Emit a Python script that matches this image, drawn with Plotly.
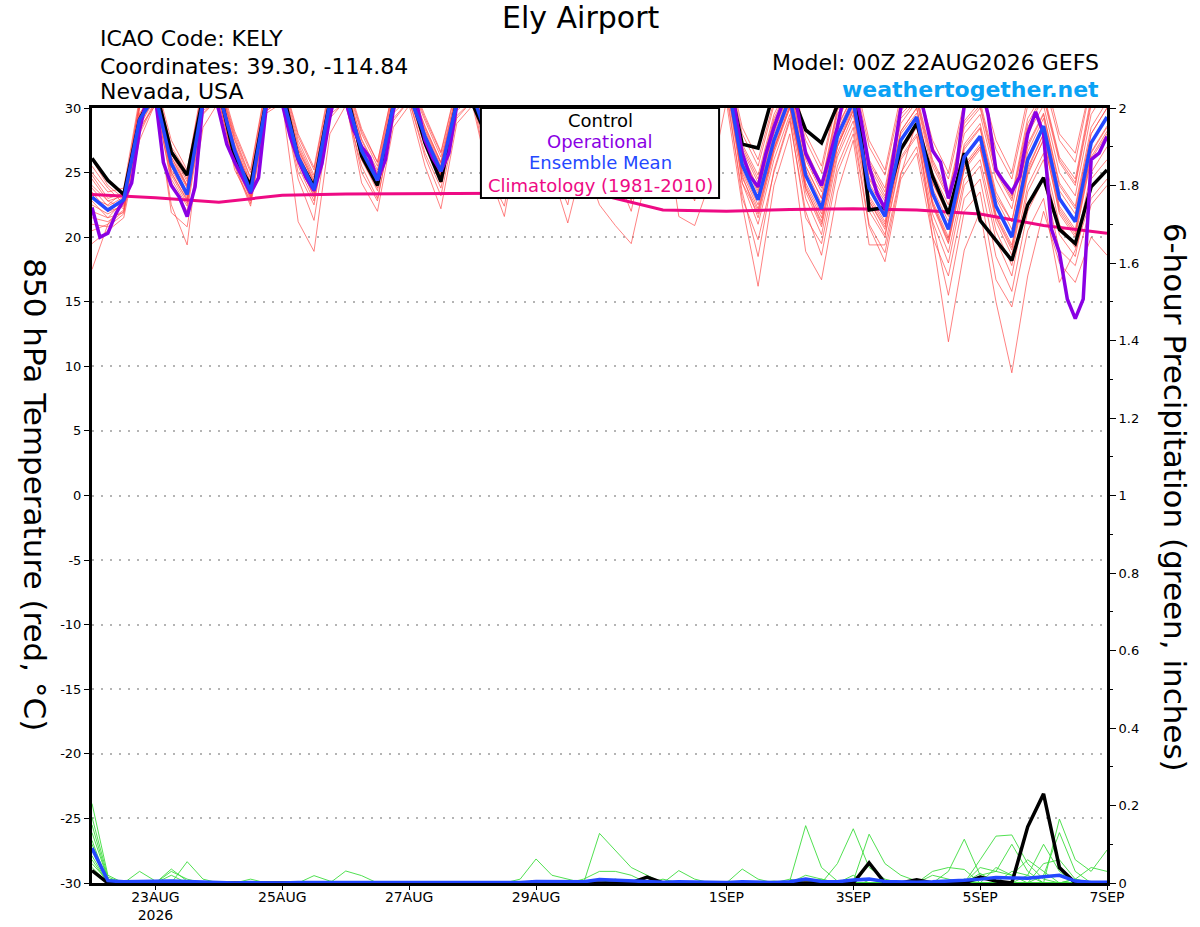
import pandas as pd
import plotly.graph_objects as go

# GEFS run 00Z 22AUG2026, 6-hourly steps (operational GFS is 3-hourly)
steps_6h = pd.date_range("2026-08-22 00:00", "2026-09-07 00:00", freq="6h")
steps_3h = pd.date_range("2026-08-22 00:00", "2026-09-07 00:00", freq="3h")
clim_days = pd.date_range("2026-08-22", "2026-09-07", freq="D")

tick_dates = ["2026-08-23", "2026-08-25", "2026-08-27", "2026-08-29",
              "2026-09-01", "2026-09-03", "2026-09-05", "2026-09-07"]
tick_names = ["23AUG<br>2026", "25AUG", "27AUG", "29AUG", "1SEP", "3SEP", "5SEP", "7SEP"]
temp_ticks = [30, 25, 20, 15, 10, 5, 0, -5, -10, -15, -20, -25, -30]
temp_tick_text = ["30", "25", "20", "15", "10", "5", "0", "-5", "-10", "-15", "-20", "-25", "-30"]

# 850 hPa temperature (C)
ctrl_t = [26.1, 24.4, 23.3, 29.1, 31.5, 26.6, 24.8, 30.8, 31.5, 26.1, 24.0, 30.6, 31.5, 26.1, 23.9, 30.5,
          31.5, 26.3, 24.0, 30.2, 31.5, 27.3, 24.3, 30.5, 30.3, 27.5, 25.0, 30.5, 31.5, 27.5, 25.0, 30.5,
          31.5, 27.0, 24.5, 30.2, 31.5, 27.5, 24.8, 30.5, 33.0, 27.2, 26.9, 31.3, 31.5, 28.3, 27.3, 30.2,
          33.5, 22.1, 22.3, 26.8, 28.8, 24.7, 21.8, 26.5, 21.3, 19.8, 18.2, 22.5, 24.6, 20.6, 19.5, 23.9,
          25.2]
mean_t = [23.1, 22.1, 22.9, 29.1, 31.0, 25.7, 23.3, 30.6, 31.2, 26.7, 23.5, 30.6, 31.0, 26.2, 23.7, 30.4,
          31.0, 26.7, 24.4, 30.2, 31.0, 27.8, 25.1, 30.4, 31.0, 27.5, 24.8, 30.5, 31.2, 27.8, 25.0, 30.5,
          31.2, 27.5, 24.5, 30.2, 31.0, 27.2, 24.6, 30.5, 32.5, 25.6, 22.9, 27.5, 30.8, 24.8, 22.2, 27.8,
          30.5, 23.8, 21.6, 27.5, 29.3, 23.4, 20.6, 26.2, 27.8, 22.4, 20.0, 26.0, 28.6, 23.0, 21.2, 27.3,
          29.3]
oper_t = [22.3, 20.0, 20.3, 21.8, 22.9, 24.2, 28.3, 31.0, 30.8, 25.8, 24.0, 23.1, 21.6, 23.9, 30.5, 32.0,
          29.8, 27.2, 25.8, 24.6, 23.4, 24.6, 30.2, 32.0, 30.3, 27.8, 26.0, 24.6, 23.6, 25.7, 29.3, 32.0,
          30.5, 28.3, 27.0, 26.2, 24.4, 26.0, 29.8, 32.0, 32.0, 30.2, 27.5, 26.1, 25.1, 26.5, 30.2, 32.0,
          32.0, 30.5, 27.5, 26.2, 25.2, 26.5, 30.5, 32.0, 32.0, 31.0, 27.8, 26.3, 25.3, 26.8, 30.5, 32.0,
          32.0, 31.0, 27.5, 26.0, 24.8, 26.2, 30.2, 32.0, 32.0, 31.0, 27.2, 25.8, 24.7, 26.0, 30.5, 32.0,
          32.0, 30.2, 26.5, 24.7, 23.9, 26.5, 28.5, 30.2, 32.0, 29.8, 26.5, 25.2, 24.0, 26.2, 28.5, 31.5,
          32.0, 29.0, 25.5, 23.4, 22.2, 26.0, 30.0, 32.0, 32.0, 29.5, 26.7, 25.8, 23.0, 25.2, 30.2, 32.0,
          32.0, 29.5, 25.2, 24.3, 23.5, 24.7, 28.0, 29.7, 28.0, 20.6, 18.8, 15.2, 13.7, 15.2, 26.0, 26.5,
          27.8]
clim_t = [23.3, 23.05, 22.7, 23.25, 23.35, 23.35, 23.4, 23.4, 23.3, 22.1, 22.0, 22.15, 22.2, 22.1,
          21.8, 20.9, 20.3]

m01 = [25.5, 23.8, 22.6, 29.5, 31.5, 26.5, 24.0, 31.0, 31.8, 27.2, 24.0, 31.0, 31.5, 26.8, 24.2, 30.8,
       31.5, 27.2, 24.8, 30.6, 31.5, 28.2, 25.5, 30.8, 31.5, 28.0, 25.2, 31.0, 31.6, 28.2, 25.4, 31.0,
       31.6, 28.0, 25.0, 30.6, 31.5, 27.8, 25.2, 31.0, 33.0, 26.5, 23.8, 28.5, 31.5, 26.0, 23.5, 29.0,
       31.5, 25.0, 23.0, 28.8, 30.5, 25.0, 22.5, 28.0, 29.5, 24.5, 22.2, 28.0, 30.2, 25.0, 23.2, 29.5,
       31.5]
m02 = [17.5, 21.0, 22.0, 28.8, 30.8, 25.0, 22.8, 30.2, 31.0, 26.2, 23.0, 30.4, 30.8, 25.8, 23.2, 30.0,
       30.8, 26.4, 24.0, 30.0, 30.8, 27.5, 24.8, 30.2, 30.8, 27.2, 24.5, 30.2, 31.0, 27.5, 24.6, 30.2,
       31.0, 27.2, 24.2, 30.0, 30.8, 26.8, 24.2, 30.2, 32.0, 24.8, 21.5, 26.5, 30.0, 23.5, 20.8, 26.5,
       29.5, 22.5, 20.2, 26.2, 28.0, 21.8, 18.8, 24.5, 26.0, 20.5, 17.8, 24.0, 26.5, 21.0, 19.2, 25.0,
       27.0]
m03 = [24.5, 22.8, 22.2, 28.5, 30.2, 22.5, 19.4, 29.5, 30.8, 26.0, 23.2, 30.2, 31.0, 26.5, 23.8, 30.6,
       31.2, 26.8, 24.6, 30.4, 31.0, 27.8, 25.2, 30.4, 31.0, 27.5, 24.8, 30.5, 31.2, 27.8, 25.0, 30.5,
       31.2, 27.5, 24.5, 30.2, 31.0, 27.2, 24.6, 30.5, 32.0, 26.2, 23.8, 28.5, 31.2, 25.5, 23.0, 28.6,
       31.0, 24.6, 22.8, 28.2, 30.0, 24.2, 21.8, 27.0, 28.5, 23.2, 21.2, 27.0, 29.5, 24.0, 22.2, 28.0,
       30.0]
m04 = [23.0, 22.5, 23.5, 30.2, 31.8, 26.8, 24.5, 31.5, 32.0, 27.8, 24.6, 31.5, 32.0, 27.5, 24.8, 31.2,
       32.0, 28.0, 25.5, 31.2, 32.0, 29.0, 26.2, 31.2, 32.0, 28.8, 26.0, 31.4, 32.2, 29.0, 26.2, 31.4,
       32.2, 28.8, 25.8, 31.2, 32.0, 28.5, 25.8, 31.4, 33.5, 27.2, 24.8, 29.5, 32.0, 26.8, 24.2, 30.0,
       32.0, 26.0, 23.8, 29.8, 31.0, 26.0, 23.5, 29.0, 30.5, 25.5, 23.2, 29.2, 31.2, 26.2, 24.5, 30.8,
       32.5]
m05 = [22.0, 21.5, 22.8, 29.0, 31.2, 25.5, 23.0, 30.6, 31.4, 26.5, 23.4, 30.6, 31.2, 26.0, 23.5, 30.4,
       31.0, 26.5, 24.2, 30.2, 31.0, 27.6, 24.9, 30.4, 31.0, 27.4, 24.6, 30.4, 31.2, 27.6, 24.8, 30.4,
       31.2, 27.3, 24.3, 30.2, 31.0, 27.0, 24.4, 30.4, 32.4, 25.2, 22.5, 27.0, 30.5, 24.2, 21.8, 27.2,
       30.2, 23.2, 21.2, 27.0, 28.8, 22.8, 20.0, 25.6, 27.2, 21.8, 19.4, 25.4, 28.0, 22.4, 20.6, 26.6,
       28.6]
m06 = [26.0, 24.0, 23.0, 30.5, 32.0, 27.0, 25.0, 31.8, 32.2, 28.0, 25.0, 31.8, 32.2, 27.8, 25.2, 31.5,
       32.2, 28.2, 25.8, 31.5, 32.2, 29.2, 26.5, 31.6, 32.2, 29.0, 26.2, 31.6, 32.4, 29.2, 26.4, 31.6,
       32.4, 29.0, 26.0, 31.4, 32.2, 28.8, 26.0, 31.6, 33.8, 28.0, 25.5, 30.2, 32.5, 27.5, 25.0, 30.8,
       32.5, 27.0, 24.8, 30.5, 31.8, 27.0, 24.5, 30.0, 31.5, 26.8, 24.5, 30.2, 32.2, 27.5, 25.8, 31.8,
       33.5]
m07 = [21.0, 20.8, 21.8, 28.0, 30.5, 21.9, 20.8, 28.5, 30.5, 25.5, 22.4, 29.6, 30.4, 21.2, 18.9, 28.0,
       30.2, 25.5, 23.0, 29.0, 30.6, 26.2, 23.2, 29.2, 30.6, 25.0, 21.6, 28.5, 30.5, 26.5, 23.5, 29.5,
       30.6, 26.0, 22.8, 29.0, 30.4, 25.8, 23.0, 29.2, 31.5, 23.0, 19.8, 25.0, 29.0, 22.0, 18.6, 25.0,
       28.0, 20.8, 18.1, 24.5, 26.5, 20.0, 17.0, 23.0, 24.5, 18.5, 15.8, 22.0, 24.5, 19.0, 17.8, 22.5,
       24.0]
m08 = [23.5, 22.0, 22.4, 29.2, 31.0, 25.2, 23.2, 30.4, 31.2, 26.4, 23.3, 30.5, 31.0, 26.0, 23.4, 30.2,
       31.0, 26.5, 24.2, 30.0, 31.0, 27.5, 24.8, 30.2, 31.0, 27.2, 24.5, 30.2, 31.2, 27.5, 24.6, 30.2,
       31.2, 27.2, 24.2, 30.0, 31.0, 26.8, 24.2, 30.2, 32.2, 25.0, 22.2, 26.8, 30.2, 24.0, 21.5, 27.0,
       30.0, 23.0, 21.0, 26.8, 28.6, 22.6, 19.8, 25.4, 27.0, 21.5, 19.0, 25.0, 27.5, 22.0, 20.2, 26.2,
       28.2]
m09 = [24.0, 22.8, 23.2, 30.0, 31.6, 26.2, 24.0, 31.2, 31.8, 27.5, 24.2, 31.2, 31.6, 27.0, 24.4, 31.0,
       31.6, 27.5, 25.0, 30.8, 31.6, 28.5, 25.8, 31.0, 31.6, 28.2, 25.5, 31.0, 31.8, 28.5, 25.6, 31.0,
       31.8, 28.2, 25.2, 30.8, 31.6, 28.0, 25.2, 31.0, 33.0, 26.8, 24.2, 29.0, 31.6, 26.2, 23.8, 29.5,
       31.5, 25.5, 23.2, 29.2, 30.6, 25.5, 23.0, 28.5, 30.0, 25.0, 22.8, 28.5, 30.8, 25.8, 24.0, 30.2,
       32.0]
m10 = [22.5, 21.8, 22.5, 29.4, 31.2, 25.8, 23.5, 30.8, 31.5, 26.8, 23.8, 30.8, 31.2, 26.4, 23.9, 30.6,
       31.2, 26.9, 24.5, 30.4, 31.2, 28.0, 25.3, 30.6, 31.2, 27.8, 25.0, 30.6, 31.4, 28.0, 25.2, 30.6,
       31.4, 27.8, 24.8, 30.4, 31.2, 27.5, 24.8, 30.6, 32.6, 26.0, 23.4, 28.0, 31.0, 25.2, 22.6, 28.2,
       30.8, 24.2, 22.0, 28.0, 29.6, 23.8, 21.2, 26.8, 28.4, 23.0, 20.6, 26.6, 29.2, 23.6, 21.8, 28.0,
       30.0]
m11 = [19.5, 20.5, 21.5, 27.5, 30.4, 24.5, 22.4, 29.8, 30.6, 25.2, 22.8, 29.8, 30.6, 25.0, 22.5, 29.5,
       30.5, 24.2, 22.0, 28.5, 30.2, 25.5, 22.2, 28.8, 30.2, 24.8, 22.4, 28.8, 30.5, 25.5, 22.5, 28.6,
       30.4, 25.0, 22.0, 28.0, 30.0, 21.6, 20.9, 24.4, 30.5, 22.5, 16.2, 24.0, 28.0, 18.9, 16.7, 23.5,
       27.5, 19.4, 19.4, 25.0, 27.0, 21.0, 15.5, 22.0, 23.5, 16.7, 14.6, 20.5, 23.0, 16.5, 19.0, 23.0,
       24.5]
m12 = [25.0, 23.5, 23.8, 30.8, 32.2, 27.5, 25.2, 32.0, 32.5, 28.2, 25.2, 32.0, 32.4, 28.0, 25.4, 31.8,
       32.4, 28.4, 25.8, 31.6, 32.4, 29.4, 26.6, 31.8, 32.4, 29.2, 26.4, 31.8, 32.5, 29.4, 26.5, 31.8,
       32.5, 29.2, 26.2, 31.6, 32.4, 29.0, 26.2, 31.8, 34.0, 28.5, 26.0, 30.5, 33.0, 28.0, 25.5, 31.0,
       33.0, 27.5, 25.2, 31.0, 32.0, 27.5, 25.0, 30.5, 32.0, 27.5, 25.0, 30.8, 32.8, 28.0, 26.5, 32.0,
       34.0]
m13 = [23.2, 22.2, 22.9, 29.6, 31.3, 26.2, 23.9, 30.6, 31.3, 27.0, 24.1, 30.6, 31.0, 26.8, 24.3, 30.4,
       31.0, 26.0, 23.8, 30.2, 31.0, 28.3, 25.7, 30.4, 31.0, 28.2, 25.6, 30.5, 31.2, 27.0, 24.2, 30.5,
       31.2, 28.2, 25.3, 30.2, 31.0, 26.6, 23.9, 30.5, 32.6, 24.2, 21.8, 26.8, 30.0, 23.8, 21.0, 27.0,
       29.8, 22.8, 20.6, 26.8, 28.8, 22.6, 19.6, 25.4, 27.0, 21.6, 19.2, 25.2, 28.0, 22.2, 20.4, 26.5,
       28.5]
m14 = [21.5, 21.2, 22.1, 28.6, 30.8, 24.8, 22.6, 30.0, 31.0, 25.8, 22.9, 30.2, 30.8, 25.5, 22.8, 29.8,
       30.8, 26.0, 23.6, 29.6, 30.8, 27.0, 24.2, 29.8, 30.8, 26.6, 23.8, 29.8, 31.0, 27.0, 24.0, 29.8,
       31.0, 26.6, 23.5, 29.6, 30.8, 26.2, 23.5, 29.8, 31.8, 24.2, 21.0, 26.0, 29.5, 23.0, 20.2, 26.2,
       29.0, 22.0, 20.0, 26.0, 27.8, 21.2, 18.0, 24.0, 25.5, 19.8, 17.0, 23.5, 26.0, 20.2, 18.5, 24.5,
       26.0]
m15 = [24.8, 23.0, 23.4, 30.4, 31.8, 26.6, 24.3, 31.4, 32.0, 27.6, 24.5, 31.4, 31.8, 27.2, 24.6, 31.0,
       31.8, 27.6, 25.2, 31.0, 31.8, 28.6, 25.8, 31.2, 31.8, 28.4, 25.6, 31.2, 32.0, 28.6, 25.8, 31.2,
       32.0, 28.4, 25.4, 31.0, 31.8, 28.2, 25.4, 31.2, 33.2, 27.0, 24.5, 29.2, 31.8, 26.5, 24.0, 29.8,
       31.8, 25.8, 23.5, 29.5, 30.8, 25.8, 23.2, 28.8, 30.2, 25.2, 23.0, 28.8, 31.0, 26.0, 24.2, 30.5,
       32.2]
m16 = [20.5, 21.0, 22.7, 28.2, 30.6, 24.2, 22.0, 29.6, 30.8, 25.6, 22.6, 29.8, 30.6, 24.5, 21.3, 29.2,
       30.6, 25.0, 22.8, 29.2, 30.6, 26.5, 23.8, 29.4, 30.6, 26.0, 23.2, 29.4, 30.8, 25.0, 21.1, 26.0,
       22.5, 20.9, 19.5, 25.0, 29.0, 25.5, 22.8, 29.0, 31.0, 23.5, 18.5, 25.2, 29.2, 21.5, 19.5, 25.5,
       28.5, 21.0, 18.8, 24.8, 29.0, 20.0, 11.9, 19.0, 22.0, 15.0, 9.5, 17.0, 22.0, 18.0, 16.5, 20.0,
       18.6]
m17 = [22.8, 21.5, 21.9, 29.0, 31.0, 25.0, 22.9, 30.3, 31.1, 26.3, 23.1, 30.4, 31.0, 25.8, 23.1, 30.1,
       31.0, 26.4, 24.0, 30.0, 31.0, 27.4, 24.7, 30.2, 31.0, 27.0, 24.4, 30.2, 31.1, 27.4, 24.6, 30.2,
       31.1, 27.0, 24.0, 30.0, 31.0, 26.8, 24.0, 30.2, 32.2, 24.6, 22.0, 26.8, 30.2, 23.8, 21.2, 27.0,
       29.8, 22.8, 20.8, 26.6, 28.5, 22.4, 19.5, 25.2, 26.8, 21.2, 18.6, 24.8, 27.6, 21.8, 20.0, 26.0,
       28.0]
m18 = [23.8, 22.4, 23.1, 30.0, 31.5, 26.0, 23.8, 31.0, 31.6, 27.0, 23.9, 31.0, 31.4, 26.6, 24.0, 30.8,
       31.4, 27.0, 24.7, 30.5, 31.4, 28.0, 25.4, 30.6, 31.4, 27.8, 25.1, 30.8, 31.5, 28.0, 25.3, 30.8,
       31.5, 27.8, 24.8, 30.5, 31.4, 27.5, 24.9, 30.8, 32.8, 26.2, 23.6, 28.2, 31.2, 25.5, 23.0, 28.5,
       31.0, 24.5, 22.4, 28.2, 30.0, 24.2, 21.6, 27.2, 28.8, 23.5, 21.2, 27.2, 29.6, 24.2, 22.4, 28.5,
       30.5]
temp_members = [m01, m02, m03, m04, m05, m06, m07, m08, m09, m10, m11, m12, m13, m14, m15, m16, m17, m18]

# 6-hour precipitation (inches)
ctrl_p = [0.032, 0, 0, 0, 0, 0, 0, 0, 0, 0, 0, 0, 0, 0, 0, 0,
          0, 0, 0, 0, 0, 0, 0, 0, 0, 0, 0, 0, 0, 0, 0, 0,
          0, 0, 0, 0.015, 0, 0, 0, 0, 0, 0, 0, 0, 0, 0, 0, 0,
          0, 0.052, 0, 0, 0.008, 0, 0, 0, 0.015, 0.005, 0, 0.145, 0.23, 0.04, 0, 0,
          0]
mean_p = [0.09, 0.006, 0.003, 0.004, 0.003, 0.005, 0.004, 0.002, 0.001, 0, 0.001, 0, 0, 0.001, 0.001, 0.001,
          0.002, 0.001, 0, 0, 0, 0, 0, 0, 0, 0, 0, 0.001, 0.004, 0.003, 0.002, 0.003,
          0.009, 0.007, 0.004, 0.004, 0.002, 0.003, 0.002, 0.001, 0.001, 0.003, 0.002, 0.001, 0.003, 0.01, 0.004, 0.003,
          0.008, 0.01, 0.004, 0.002, 0.002, 0.003, 0.004, 0.007, 0.01, 0.014, 0.013, 0.012, 0.016, 0.02, 0.005, 0.002,
          0.002]
g01 = [0.205, 0.02, 0, 0, 0, 0.036, 0.005, 0, 0, 0, 0, 0, 0, 0, 0, 0,
       0, 0, 0, 0, 0, 0, 0, 0, 0, 0, 0, 0, 0, 0, 0, 0,
       0.128, 0.085, 0.04, 0.02, 0, 0, 0, 0, 0, 0, 0, 0, 0, 0, 0, 0,
       0, 0, 0, 0, 0, 0, 0, 0, 0.06, 0.121, 0.124, 0.05, 0.01, 0, 0, 0,
       0]
g02 = [0.17, 0.015, 0, 0.03, 0.005, 0, 0.055, 0.01, 0, 0, 0, 0, 0, 0, 0, 0,
       0, 0, 0, 0, 0, 0, 0, 0, 0, 0, 0, 0, 0, 0, 0, 0,
       0, 0, 0, 0, 0, 0, 0, 0, 0, 0, 0, 0, 0.005, 0.148, 0.04, 0.005,
       0, 0, 0, 0, 0, 0, 0, 0, 0, 0, 0, 0, 0, 0, 0, 0,
       0]
g03 = [0.15, 0.01, 0, 0, 0, 0.03, 0.01, 0, 0, 0, 0, 0, 0, 0, 0, 0,
       0, 0, 0, 0, 0, 0, 0, 0, 0, 0, 0, 0, 0, 0, 0, 0,
       0, 0, 0, 0, 0, 0, 0, 0, 0, 0, 0, 0, 0, 0, 0, 0.05,
       0.14, 0.04, 0.01, 0, 0, 0, 0, 0, 0, 0, 0, 0, 0, 0.165, 0.06, 0.03,
       0.085]
g04 = [0.13, 0.01, 0, 0, 0, 0, 0, 0, 0, 0, 0, 0, 0, 0, 0, 0,
       0.031, 0.019, 0, 0, 0, 0, 0, 0, 0, 0, 0, 0, 0, 0, 0, 0,
       0, 0, 0, 0, 0, 0, 0, 0, 0, 0, 0, 0, 0, 0, 0, 0,
       0.005, 0.126, 0.05, 0.02, 0.005, 0, 0, 0, 0, 0, 0, 0.02, 0.1, 0.03, 0, 0,
       0]
g05 = [0.11, 0, 0, 0, 0, 0, 0, 0, 0, 0, 0, 0, 0, 0, 0.019, 0.005,
       0, 0, 0, 0, 0, 0, 0, 0, 0, 0, 0, 0.01, 0.062, 0.02, 0.01, 0,
       0, 0, 0, 0, 0, 0, 0, 0, 0, 0, 0, 0, 0, 0, 0, 0,
       0, 0, 0, 0, 0, 0, 0.03, 0.113, 0.02, 0.03, 0.1, 0.03, 0, 0, 0, 0,
       0]
g06 = [0.1, 0, 0, 0, 0, 0, 0, 0, 0, 0, 0.01, 0, 0, 0, 0, 0,
       0, 0, 0, 0, 0, 0, 0, 0, 0, 0, 0, 0, 0, 0, 0, 0,
       0, 0, 0, 0, 0, 0.032, 0.01, 0, 0, 0.036, 0.01, 0, 0, 0, 0, 0,
       0, 0, 0, 0, 0, 0.03, 0.04, 0.035, 0, 0, 0, 0, 0.02, 0.13, 0.03, 0,
       0]
g07 = [0.085, 0.01, 0, 0, 0, 0.02, 0, 0, 0, 0, 0, 0, 0, 0, 0, 0,
       0, 0, 0, 0, 0, 0, 0, 0, 0, 0, 0, 0, 0, 0, 0, 0.01,
       0.03, 0.03, 0.02, 0, 0, 0, 0, 0, 0, 0, 0, 0, 0.01, 0, 0, 0,
       0.02, 0, 0, 0, 0, 0.02, 0.01, 0, 0, 0, 0, 0, 0, 0, 0.01, 0.04,
       0.03]
g08 = [0.07, 0, 0, 0, 0, 0, 0, 0, 0, 0, 0, 0, 0, 0, 0, 0,
       0, 0, 0, 0, 0, 0, 0, 0, 0, 0, 0, 0, 0, 0.005, 0, 0,
       0, 0, 0, 0, 0, 0, 0, 0, 0, 0, 0, 0, 0, 0.02, 0.01, 0,
       0, 0, 0, 0, 0, 0, 0, 0, 0.04, 0.03, 0.02, 0.06, 0.03, 0, 0, 0,
       0]
g09 = [0.06, 0, 0, 0, 0, 0, 0, 0, 0, 0, 0, 0, 0, 0, 0, 0,
       0, 0, 0, 0, 0, 0, 0, 0, 0, 0, 0, 0, 0, 0, 0, 0,
       0, 0, 0, 0, 0.01, 0, 0, 0, 0, 0, 0, 0, 0, 0, 0, 0,
       0, 0, 0.005, 0, 0, 0, 0, 0, 0, 0.04, 0.02, 0, 0, 0, 0.01, 0,
       0]
g10 = [0.05, 0.005, 0, 0, 0, 0, 0, 0, 0, 0, 0, 0, 0, 0, 0, 0,
       0, 0, 0, 0, 0, 0, 0, 0, 0, 0, 0, 0, 0, 0, 0, 0,
       0, 0, 0, 0, 0, 0, 0, 0, 0, 0, 0, 0.005, 0, 0, 0, 0,
       0, 0, 0, 0, 0, 0, 0, 0, 0.025, 0, 0, 0, 0.05, 0.06, 0.01, 0,
       0]
g11 = [0.04, 0, 0, 0, 0, 0, 0, 0, 0, 0, 0, 0, 0, 0, 0, 0,
       0, 0, 0, 0, 0, 0, 0, 0, 0, 0, 0, 0, 0, 0, 0, 0,
       0, 0, 0, 0, 0, 0, 0, 0, 0, 0, 0, 0, 0, 0, 0, 0,
       0, 0, 0, 0, 0.01, 0, 0, 0, 0, 0, 0.03, 0.02, 0, 0, 0, 0,
       0]
g12 = [0.03, 0, 0, 0, 0, 0, 0, 0, 0, 0, 0, 0, 0, 0, 0, 0,
       0, 0, 0, 0, 0, 0, 0, 0, 0, 0, 0, 0, 0, 0, 0, 0,
       0, 0.01, 0, 0, 0, 0, 0, 0, 0, 0, 0, 0, 0, 0, 0.01, 0,
       0, 0, 0, 0, 0, 0, 0, 0.01, 0, 0, 0, 0, 0, 0, 0, 0,
       0]
precip_members = [g01, g02, g03, g04, g05, g06, g07, g08, g09, g10, g11, g12]

FONT = "DejaVu Sans"

fig = go.Figure()

# ensemble members, thin red (temperature) and thin green (precip)
for m in temp_members:
    fig.add_trace(go.Scatter(x=steps_6h, y=m, mode="lines",
                             line=dict(color="rgba(255,70,70,0.85)", width=0.8)))
for g in precip_members:
    fig.add_trace(go.Scatter(x=steps_6h, y=g, mode="lines", yaxis="y2",
                             line=dict(color="#3ddc3d", width=0.9)))
fig.add_trace(go.Scatter(x=steps_6h, y=ctrl_p, mode="lines", yaxis="y2",
                         line=dict(color="black", width=3.5)))
fig.add_trace(go.Scatter(x=steps_6h, y=mean_p, mode="lines", yaxis="y2",
                         line=dict(color="#2448ff", width=3.5)))

fig.add_trace(go.Scatter(x=clim_days, y=clim_t, mode="lines",
                         line=dict(color="#ee0a84", width=3)))
fig.add_trace(go.Scatter(x=steps_6h, y=ctrl_t, mode="lines",
                         line=dict(color="black", width=3.5)))
fig.add_trace(go.Scatter(x=steps_3h, y=oper_t, mode="lines",
                         line=dict(color="#8a00e4", width=3.5)))
fig.add_trace(go.Scatter(x=steps_6h, y=mean_t, mode="lines",
                         line=dict(color="#2448ff", width=3.5)))

# pixel helpers for the header / legend box (plot area 92..1107 x 108..883)
def px(x):
    return (x - 92.3) / 1014.4

def py(y):
    return (883 - y) / 775

notes = [
    dict(text="Ely Airport", x=px(581), y=py(18), size=30, color="black", xanchor="center"),
    dict(text="ICAO Code: KELY", x=px(98), y=py(39), size=22, color="black", xanchor="left"),
    dict(text="Coordinates: 39.30, -114.84", x=px(98), y=py(66), size=22, color="black", xanchor="left"),
    dict(text="Nevada, USA", x=px(98), y=py(92), size=22, color="black", xanchor="left"),
    dict(text="Model: 00Z 22AUG2026 GEFS", x=px(1101), y=py(63), size=22, color="black", xanchor="right"),
    dict(text="<b>weathertogether.net</b>", x=px(1101), y=py(89), size=22, color="#0aa2f5", xanchor="right"),
    dict(text="Control", x=px(600), y=py(121), size=18, color="black", xanchor="center"),
    dict(text="Operational", x=px(600), y=py(142), size=18, color="#8a00e4", xanchor="center"),
    dict(text="Ensemble Mean", x=px(600), y=py(163), size=18, color="#2448ff", xanchor="center"),
    dict(text="Climatology (1981-2010)", x=px(600), y=py(185), size=18, color="#ee0a84", xanchor="center"),
]
for n in notes:
    fig.add_annotation(text=n["text"], x=n["x"], y=n["y"], xref="paper", yref="paper",
                       xanchor=n["xanchor"], yanchor="middle", showarrow=False,
                       font=dict(family=FONT, size=n["size"], color=n["color"]))

# axis titles, both read top to bottom
fig.add_annotation(text="850 hPa Temperature (red, °C)", x=px(35), y=py(495), textangle=90,
                   xref="paper", yref="paper", xanchor="center", yanchor="middle", showarrow=False,
                   font=dict(family=FONT, size=31, color="black"))
fig.add_annotation(text="6-hour Precipitation (green, inches)", x=px(1175), y=py(497), textangle=90,
                   xref="paper", yref="paper", xanchor="center", yanchor="middle", showarrow=False,
                   font=dict(family=FONT, size=31, color="black"))

# legend box
fig.add_shape(type="rect", xref="paper", yref="paper", x0=px(481), x1=px(719), y0=py(198), y1=1,
              line=dict(color="black", width=2), fillcolor="white", layer="above")

fig.update_layout(
    width=1200, height=927,
    margin=dict(l=92, r=93, t=108, b=44, autoexpand=False),
    paper_bgcolor="white", plot_bgcolor="white",
    showlegend=False,
    font=dict(family=FONT, size=13, color="black"),
    xaxis=dict(range=["2026-08-22 00:00", "2026-09-07 00:00"], tickvals=tick_dates, ticktext=tick_names,
               ticks="outside", ticklen=4, tickwidth=1, tickcolor="black", showgrid=False, zeroline=False,
               showline=True, linewidth=3, linecolor="black", mirror=True, tickfont=dict(size=14),
               ticklabelstandoff=-5, automargin=False),
    yaxis=dict(range=[-30, 30], tickvals=temp_ticks, ticktext=temp_tick_text,
               ticks="outside", ticklen=5, tickwidth=1, tickcolor="black", zeroline=False,
               showgrid=True, gridcolor="#b4b4b4", gridwidth=1.5, griddash="2px,7px",
               showline=True, linewidth=3, linecolor="black", automargin=False),
    yaxis2=dict(range=[0, 2], overlaying="y", side="right", dtick=0.2,
                ticks="outside", ticklen=6, tickwidth=1, tickcolor="black",
                minor=dict(dtick=0.1, ticks="outside", ticklen=3, tickcolor="black"),
                showgrid=False, zeroline=False, showline=True, linewidth=3, linecolor="black",
                automargin=False),
)

fig.write_html("out.html", config={"displayModeBar": False},
               post_script="document.body.style.margin='0px';")
